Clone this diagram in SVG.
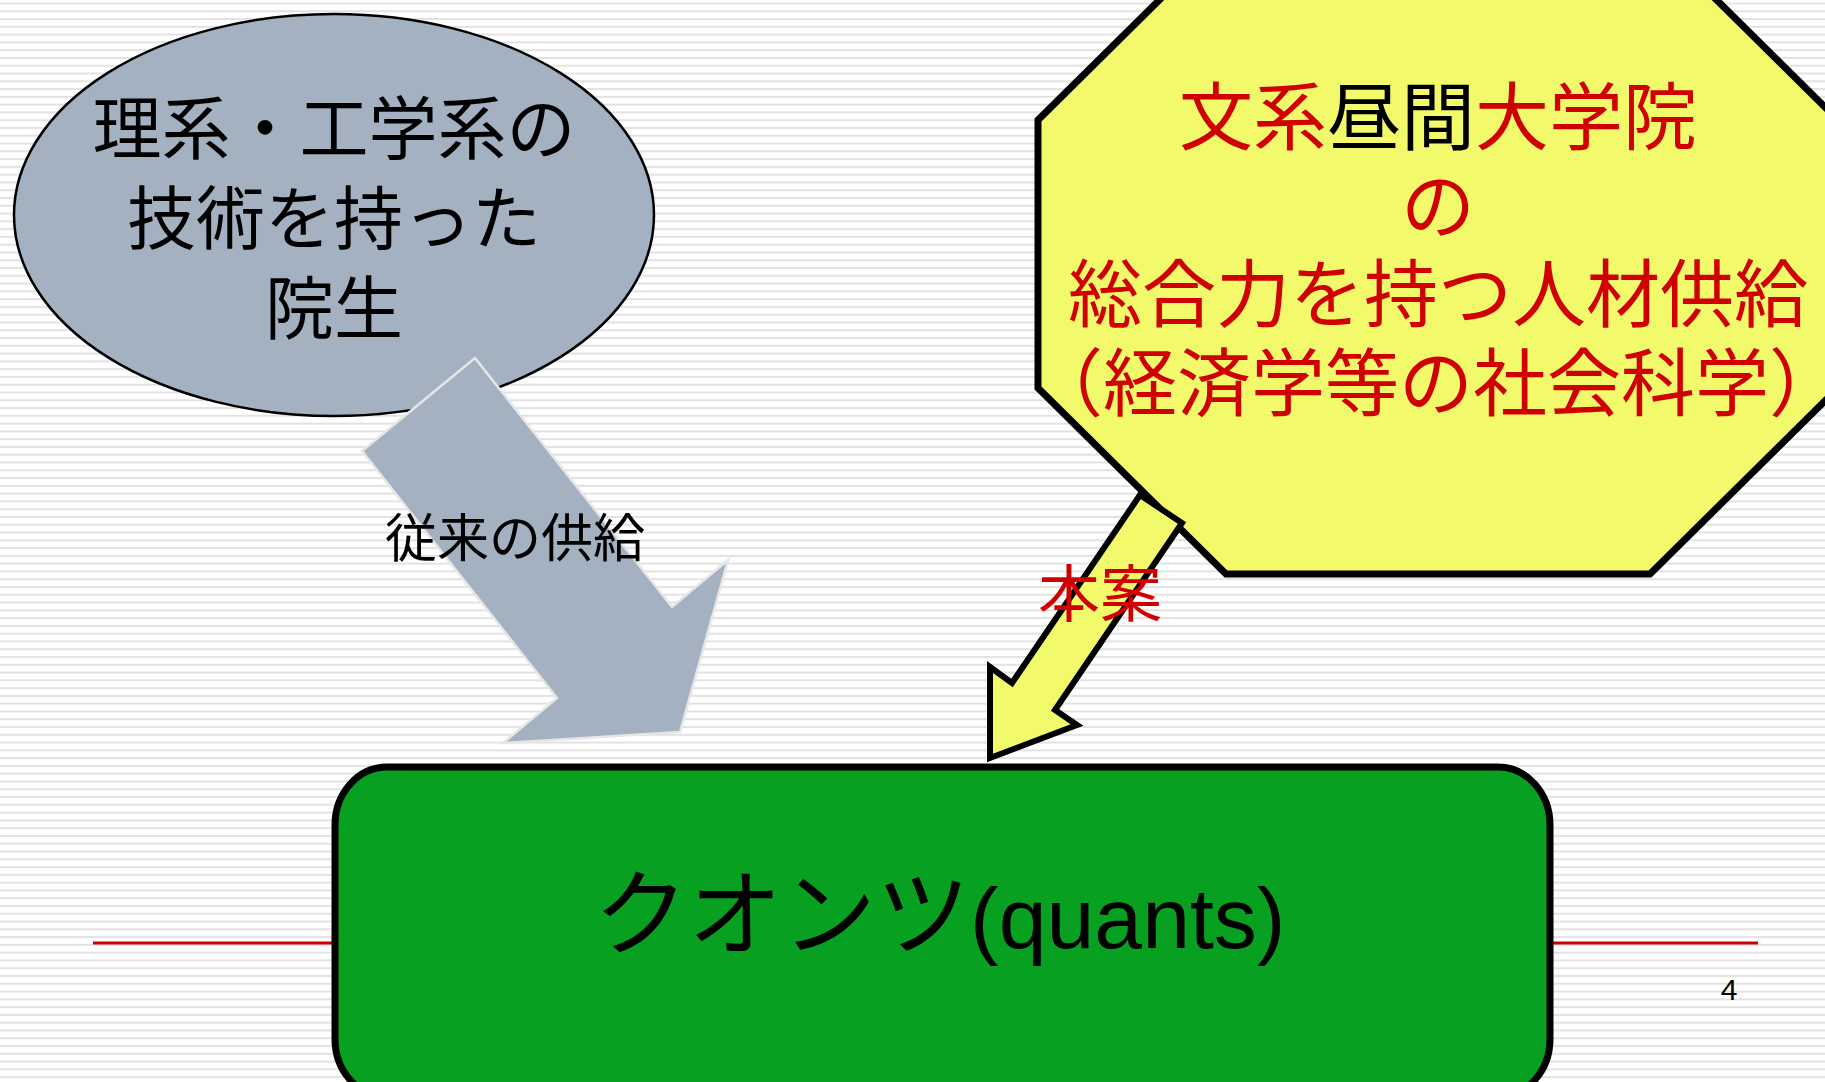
<svg xmlns="http://www.w3.org/2000/svg" width="1825" height="1082" viewBox="0 0 1825 1082">
<defs>
<pattern id="stripes" x="0" y="2.5" width="20" height="7.78" patternUnits="userSpaceOnUse">
<rect x="0" y="0" width="20" height="2" fill="#e2e2e2"/>
</pattern>
<style>
.jp{font-family:"Noto Sans CJK JP","Noto Sans CJK SC",sans-serif;}
.red{fill:#d00000;}
.blk{fill:#000000;}
</style>
</defs>
<rect x="0" y="0" width="1825" height="1082" fill="#ffffff"/>
<rect x="0" y="0" width="1825" height="1082" fill="url(#stripes)"/>
<line x1="93" y1="943" x2="1758" y2="943" stroke="#cc0000" stroke-width="3"/>
<text x="1729" y="1000" font-family="'Liberation Sans',sans-serif" font-size="30" text-anchor="middle" fill="#000">4</text>

<g id="node-rikei">
<ellipse cx="334" cy="215" rx="320" ry="201" fill="#a3b1c1" stroke="#000" stroke-width="2.5"/>
<text class="jp blk" font-size="69" text-anchor="middle"><tspan x="334" y="154">理系・工学系の</tspan><tspan x="334" y="244">技術を持った</tspan><tspan x="334" y="334">院生</tspan></text>
</g>

<g id="node-bunkei">
<polygon points="1226,-66 1650,-66 1838,120 1838,388 1650,574 1226,574 1038,388 1038,120" fill="#f2fa6b" stroke="#000" stroke-width="7"/>
<text class="jp red" font-size="74" text-anchor="middle"><tspan x="1438" y="144">文系<tspan class="blk">昼間</tspan>大学院</tspan><tspan x="1438" y="233">の</tspan><tspan x="1438" y="321">総合力を持つ人材供給</tspan><tspan x="1436" y="410">（経済学等の社会科学）</tspan></text>
</g>

<g id="connectors">
<g id="arrow-conventional">
<polygon points="475,358 672,607 728,560 680,732 503,743 557,698 362,451" fill="#a3b1c1" stroke="#e6e6e6" stroke-width="2.5"/>
<text x="385" y="557" class="jp blk" font-size="52">従来の供給</text>
</g>
<g id="arrow-proposal">
<polygon points="1140,495 1182,523 1055,710 1077,725 990,758 990,667 1012,683" fill="#f2fa6b" stroke="#000" stroke-width="6" stroke-linejoin="miter"/>
<text x="1038" y="617" class="jp red" font-size="62">本案</text>
</g>
</g>

<g id="node-quants">
<rect x="335" y="767" width="1215" height="330" rx="52" ry="58" fill="#08a020" stroke="#000" stroke-width="7"/>
<text y="948" fill="#000"><tspan x="594" class="jp" font-size="94">クオンツ</tspan><tspan font-family="'Liberation Sans',sans-serif" font-size="86">(quants)</tspan></text>
</g>
</svg>
